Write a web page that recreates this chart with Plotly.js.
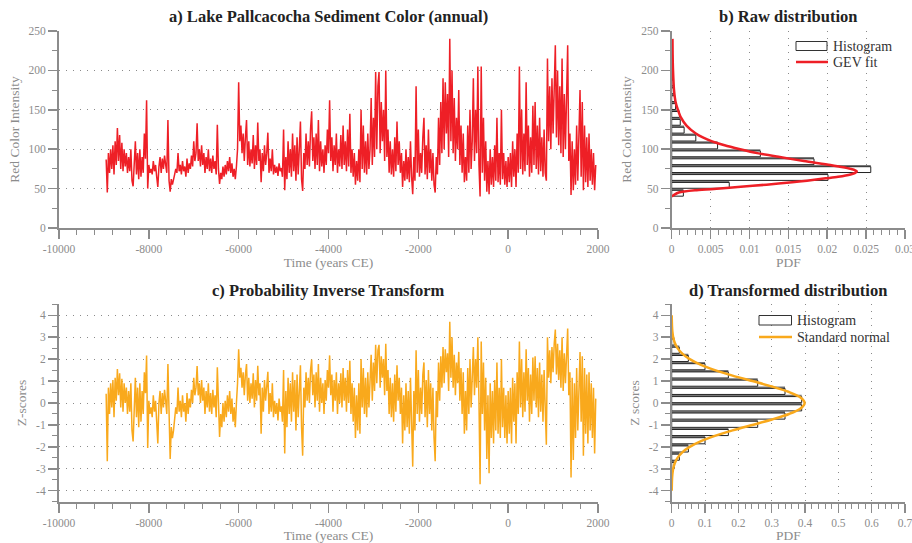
<!DOCTYPE html>
<html><head><meta charset="utf-8">
<script src="https://cdn.plot.ly/plotly-3.0.1.min.js"></script>
<style>html,body{margin:0;padding:0;background:#fff}#chart{width:912px;height:543px}</style>
</head><body><div id="chart"></div>
<script>
// ---------- data ----------
const yearStart = -8950;   // first sample (years CE)
const yearStep = 25;       // sampling step of the values below (years)

const redColor = [
  87,45,95,70,100,75,105,68,110,80,127,85,118,75,108,72,100,78,95,70,
  90,72,100,60,53,85,110,68,95,62,100,65,90,70,120,88,162,50,80,70,
  75,68,85,72,80,65,52,78,90,70,88,75,92,80,70,137,60,46,62,55,
  60,68,75,70,95,72,80,68,85,72,78,65,88,70,82,75,92,78,110,85,
  95,133,85,100,78,105,80,95,70,90,75,100,72,88,70,92,75,85,68,131,
  75,56,70,62,78,65,80,68,85,72,90,70,82,65,75,62,78,100,185,110,
  130,95,120,85,115,137,80,110,78,100,82,118,75,105,80,134,85,100,58,95,
  72,105,80,95,121,70,88,72,100,68,80,70,78,66,82,72,76,65,125,48,
  90,62,110,70,100,65,120,72,105,60,115,68,100,135,62,47,95,75,120,80,
  110,78,125,148,85,115,75,120,80,137,72,110,78,100,70,105,80,125,95,162,
  85,115,72,105,80,120,70,100,78,118,75,130,80,110,72,125,78,145,70,100,
  65,95,55,85,60,100,58,150,75,130,70,110,68,120,75,100,165,80,140,90,
  198,100,180,198,95,160,110,150,85,200,90,125,70,110,68,100,65,115,72,135,
  80,110,70,95,52,85,60,100,62,90,58,110,65,43,90,60,180,70,125,65,
  95,70,115,140,68,105,62,125,70,100,60,95,55,45,90,68,140,80,160,95,
  190,100,185,120,170,90,240,110,200,95,165,85,140,100,175,80,130,70,120,58,
  90,60,130,70,150,75,110,190,85,150,95,205,80,40,205,70,140,60,110,46,
  85,43,100,55,90,52,105,60,140,58,95,55,150,62,95,55,85,52,90,58,
  95,52,110,65,100,52,120,70,205,75,150,68,120,72,185,80,130,65,115,70,
  155,80,160,75,130,68,140,72,115,65,125,70,60,215,110,180,100,190,120,200,
  232,115,200,105,180,95,215,90,170,100,150,232,85,120,42,110,48,100,55,130,
  60,120,175,65,160,48,130,58,115,52,120,60,100,55,95,48,80
];

const zScores = [
  0.42,-2.65,0.7,-0.5,0.9,-0.2,1.05,-0.65,1.15,0.1,1.55,0.35,1.35,-0.2,1.1,-0.4,0.9,0.0,0.7,-0.5,
  0.55,-0.4,0.9,-1.25,-1.75,0.35,1.15,-0.65,0.7,-1.1,0.9,-0.85,0.55,-0.5,1.4,0.45,2.17,-2.05,0.1,-0.5,
  -0.2,-0.65,0.35,-0.4,0.1,-0.85,-1.85,0.0,0.55,-0.5,0.45,-0.2,0.6,0.1,-0.5,1.78,-1.25,-2.55,-1.1,-1.6,
  -1.25,-0.65,-0.2,-0.5,0.7,-0.4,0.1,-0.65,0.35,-0.4,0.0,-0.85,0.45,-0.5,0.2,-0.2,0.6,0.0,1.15,0.35,
  0.7,1.68,0.35,0.9,0.0,1.05,0.1,0.7,-0.5,0.55,-0.2,0.9,-0.4,0.45,-0.5,0.6,-0.2,0.35,-0.65,1.63,
  -0.2,-1.55,-0.5,-1.1,0.0,-0.85,0.1,-0.65,0.35,-0.4,0.55,-0.5,0.2,-0.85,-0.2,-1.1,0.0,0.9,2.45,1.15,
  1.6,0.7,1.4,0.35,1.3,1.78,0.1,1.15,0.0,0.9,0.2,1.35,-0.2,1.05,0.1,1.7,0.35,0.9,-1.4,0.7,
  -0.4,1.05,0.1,0.7,1.42,-0.5,0.45,-0.4,0.9,-0.65,0.1,-0.5,0.0,-0.8,0.2,-0.4,-0.15,-0.85,1.5,-2.3,
  0.55,-1.1,1.15,-0.5,0.9,-0.85,1.4,-0.4,1.05,-1.25,1.3,-0.65,0.9,1.72,-1.1,-2.4,0.7,-0.2,1.4,0.1,
  1.15,0.0,1.5,1.98,0.35,1.3,-0.2,1.4,0.1,1.78,-0.4,1.15,0.0,0.9,-0.5,1.05,0.1,1.5,0.7,2.17,
  0.35,1.3,-0.4,1.05,0.1,1.4,-0.5,0.9,0.0,1.35,-0.2,1.6,0.1,1.15,-0.4,1.5,0.0,1.93,-0.5,0.9,
  -0.85,0.7,-1.6,0.35,-1.25,0.9,-1.4,2.0,-0.2,1.6,-0.5,1.15,-0.65,1.4,-0.2,0.9,2.2,0.1,1.85,0.55,
  2.65,0.9,2.4,2.65,0.7,2.13,1.15,2.0,0.35,2.7,0.55,1.5,-0.5,1.15,-0.65,0.9,-0.85,1.3,-0.4,1.72,
  0.1,1.15,-0.5,0.7,-1.85,0.35,-1.25,0.9,-1.1,0.55,-1.4,1.15,-0.85,-2.9,0.55,-1.25,2.4,-0.5,1.5,-0.85,
  0.7,-0.5,1.3,1.85,-0.65,1.05,-1.1,1.5,-0.5,0.9,-1.25,0.7,-1.6,-2.65,0.55,-0.65,1.85,0.1,2.13,0.7,
  2.55,0.9,2.45,1.4,2.27,0.55,3.7,1.15,3.0,0.7,2.2,0.35,1.85,0.9,2.33,0.1,1.6,-0.5,1.4,-1.4,
  0.55,-1.25,1.6,-0.5,2.0,-0.2,1.15,2.55,0.35,2.0,0.7,3.0,0.1,-3.7,2.8,-0.5,1.85,-1.25,1.15,-2.55,
  0.35,-3.2,0.9,-1.6,0.55,-1.85,1.05,-1.25,1.85,-1.4,0.7,-1.6,2.0,-1.1,0.7,-1.6,0.35,-1.85,0.55,-1.4,
  0.7,-1.85,1.15,-0.85,0.9,-1.85,1.4,-0.5,2.8,-0.2,2.0,-0.65,1.4,-0.4,2.45,0.1,1.6,-0.85,1.3,-0.5,
  2.07,0.1,2.13,-0.2,1.6,-0.65,1.85,-0.4,1.3,-0.85,1.5,-0.5,-1.9,3.0,1.15,2.4,0.9,2.55,1.4,2.7,
  3.35,1.3,2.7,1.05,2.4,0.7,3.0,0.55,2.27,0.9,2.0,3.4,0.35,1.4,-3.4,1.15,-2.6,0.9,-1.6,1.6,
  -1.25,1.4,2.33,-0.85,2.13,-2.4,1.6,-1.4,1.3,-1.85,1.4,-1.25,0.9,-1.6,0.7,-2.3,0.2
];

// raw histogram (bin lower edges, width 10) and PDF
const rawBinWidth = 10;
const rawBinLo = [40,50,60,70,80,90,100,110,120,130,140,150,160,170,180,190,200];
const rawPdf   = [0.0015,0.0074,0.0201,0.0256,0.0183,0.0114,0.0059,0.0031,0.0016,0.0011,0.0010,0.0005,0.0004,0.0003,0.0002,0.0002,0.0002];

// GEV fit curve
const gevRed = [40,42,45,48,50,52,55,58,60,63,65,68,70,72,75,78,80,85,90,95,100,105,110,115,120,130,140,150,160,175,200,220,240];
const gevPdf = [0,0.0003,0.0009,0.0032,0.0062,0.0085,0.0122,0.0155,0.0174,0.0198,0.0214,0.0230,0.0236,0.0238,0.0230,0.0215,0.0204,0.0170,0.0139,0.0110,0.0088,0.0068,0.0052,0.0040,0.0031,0.0019,0.0012,0.0008,0.0005,0.0003,0.00017,0.00012,0.0001];

// transformed histogram (bin lower edges, width 0.375) and PDF
const zBinWidth = 0.375;
const zBinLo = [-3.0,-2.625,-2.25,-1.875,-1.5,-1.125,-0.75,-0.375,0,0.375,0.75,1.125,1.5,1.875,2.25,2.625];
const zPdf   = [0.008,0.023,0.05,0.1,0.17,0.258,0.34,0.39,0.39,0.34,0.258,0.17,0.1,0.05,0.023,0.008];

// standard normal curve
const normZ   = [-4,-3.75,-3.5,-3.25,-3,-2.75,-2.5,-2.25,-2,-1.75,-1.5,-1.25,-1,-0.75,-0.5,-0.25,0,0.25,0.5,0.75,1,1.25,1.5,1.75,2,2.25,2.5,2.75,3,3.25,3.5,3.75,4];
const normPdf = [0.0001,0.0004,0.0009,0.002,0.0044,0.0091,0.0175,0.0317,0.054,0.0863,0.1295,0.1826,0.242,0.3011,0.3521,0.3867,0.3989,0.3867,0.3521,0.3011,0.242,0.1826,0.1295,0.0863,0.054,0.0317,0.0175,0.0091,0.0044,0.002,0.0009,0.0004,0.0001];

// tick labels
const timeTicks = [-10000,-8000,-6000,-4000,-2000,0,2000];
const timeTickText = ['-10000','-8000','-6000','-4000','-2000','0','2000'];
const redTicks = [0,50,100,150,200,250];
const pdfRawTicks = [0,0.005,0.01,0.015,0.02,0.025,0.03];
const pdfRawText = ['0','0.005','0.01','0.015','0.02','0.025','0.03'];
const zTicks = [-4,-3,-2,-1,0,1,2,3,4];
const zTickText = ['-4','-3','-2','-1','0','1','2','3','4'];
const pdfZTicks = [0,0.1,0.2,0.3,0.4,0.5,0.6,0.7];
const pdfZText = ['0','0.1','0.2','0.3','0.4','0.5','0.6','0.7'];

// ---------- build ----------
const years = redColor.map((_, i) => yearStart + i * yearStep);

const RED = '#ee1f26', ORANGE = '#f9a91c', AX = '#8c8c8c', BARGRAY = '#777777';
const SERIF = 'Liberation Serif, Times New Roman, serif';

const traces = [
  {type:'scatter', mode:'lines', x: years, y: redColor, xaxis:'x', yaxis:'y',
   line:{color:RED, width:1.5}, showlegend:false, hoverinfo:'skip'},
  {type:'scatter', mode:'lines', x: years, y: zScores, xaxis:'x3', yaxis:'y3',
   line:{color:ORANGE, width:1.5}, showlegend:false, hoverinfo:'skip'},
  // panel b histogram: gray band + outlined white box
  {type:'bar', orientation:'h', y: rawBinLo, x: rawPdf, xaxis:'x2', yaxis:'y2',
   offset: rawBinWidth*0.78, width: rawBinWidth*0.22,
   marker:{color:BARGRAY, line:{width:0}}, showlegend:false, hoverinfo:'skip'},
  {type:'bar', orientation:'h', y: rawBinLo, x: rawPdf, xaxis:'x2', yaxis:'y2',
   offset: rawBinWidth*0.04, width: rawBinWidth*0.74, name:'Histogram', showlegend:false,
   marker:{color:'#ffffff', line:{color:'#222', width:1}}, hoverinfo:'skip'},
  {type:'scatter', mode:'lines', x: gevPdf, y: gevRed, xaxis:'x2', yaxis:'y2', name:'GEV fit', showlegend:false,
   line:{color:RED, width:2.5, shape:'spline', smoothing:0.8}, hoverinfo:'skip'},
  // panel d histogram
  {type:'bar', orientation:'h', y: zBinLo, x: zPdf, xaxis:'x4', yaxis:'y4',
   offset: zBinWidth*0.78, width: zBinWidth*0.22,
   marker:{color:BARGRAY, line:{width:0}}, showlegend:false, hoverinfo:'skip'},
  {type:'bar', orientation:'h', y: zBinLo, x: zPdf, xaxis:'x4', yaxis:'y4',
   offset: zBinWidth*0.04, width: zBinWidth*0.74, name:'Histogram', showlegend:false,
   marker:{color:'#ffffff', line:{color:'#222', width:1}}, hoverinfo:'skip'},
  {type:'scatter', mode:'lines', x: normPdf, y: normZ, xaxis:'x4', yaxis:'y4', name:'Standard normal', showlegend:false,
   line:{color:ORANGE, width:2.5, shape:'spline', smoothing:0.8}, hoverinfo:'skip'}
];

function axis(o){
  return Object.assign({
    showline:true, linecolor:AX, linewidth:2, zeroline:false,
    ticks:'outside', ticklen:9, tickwidth:1.5, tickcolor:AX,
    tickfont:{family:SERIF, size:11.5, color:AX}, ticklabeloverflow:'allow',
    tickmode:'array', fixedrange:true,
    showgrid:false, gridcolor:'#8a8a8a', griddash:'1px,6px', gridwidth:1
  }, o);
}
function minor(d){ return {tickmode:'linear', dtick:d, ticklen:5, tickwidth:1, tickcolor:AX, ticks:'outside', showgrid:false}; }
function ttl(t, s){ return {text:t, font:{family:SERIF, size:13.5, color:AX}, standoff:s}; }

const W = 912, H = 543;
const px = v => v / W, py = v => 1 - v / H;
const xa = [px(59), px(598)], xb = [px(671.7), px(905)];
const ya = [py(228), py(31)], yc = [py(501.7), py(304.3)];

// hand-drawn legends (wide swatches as in the reference)
const LEG = {family:SERIF, size:14, color:'#333'};
const shapes = [
  {type:'rect', xref:'paper', yref:'paper', x0:px(796), x1:px(827), y0:py(50.5), y1:py(41.5), fillcolor:'#fff', line:{color:'#333', width:1}},
  {type:'line', xref:'paper', yref:'paper', x0:px(796), x1:px(828), y0:py(62), y1:py(62), line:{color:RED, width:2.5}},
  {type:'rect', xref:'paper', yref:'paper', x0:px(759), x1:px(791.5), y0:py(325), y1:py(315.5), fillcolor:'#fff', line:{color:'#333', width:1}},
  {type:'line', xref:'paper', yref:'paper', x0:px(759), x1:px(792), y0:py(337), y1:py(337), line:{color:ORANGE, width:2.5}}
];

const layout = {
  width:W, height:H, margin:{l:0,r:0,t:0,b:0}, showlegend:false,
  paper_bgcolor:'#fff', plot_bgcolor:'#fff', barmode:'overlay',
  xaxis: axis({domain:xa, anchor:'y', range:[-10000,2000], tickvals:timeTicks, ticktext:timeTickText,
               minor:minor(400), title:ttl('Time (years CE)', 2)}),
  yaxis: axis({domain:ya, anchor:'x', range:[0,250], tickvals:redTicks, showgrid:true,
               minor:minor(25), title:ttl('Red Color Intensity', 6)}),
  xaxis2: axis({domain:xb, anchor:'y2', range:[0,0.03], tickvals:pdfRawTicks, ticktext:pdfRawText, showgrid:true,
               minor:minor(0.001), title:ttl('PDF', 2)}),
  yaxis2: axis({domain:ya, anchor:'x2', range:[0,250], tickvals:redTicks,
               minor:minor(25), title:ttl('Red Color Intensity', 6)}),
  xaxis3: axis({domain:xa, anchor:'y3', range:[-10000,2000], tickvals:timeTicks, ticktext:timeTickText,
               minor:minor(400), title:ttl('Time (years CE)', 2)}),
  yaxis3: axis({domain:yc, anchor:'x3', range:[-4.5,4.5], tickvals:zTicks, ticktext:zTickText, showgrid:true,
               minor:minor(0.5), title:ttl('Z-scores', 6)}),
  xaxis4: axis({domain:xb, anchor:'y4', range:[0,0.7], tickvals:pdfZTicks, ticktext:pdfZText, showgrid:true,
               minor:minor(0.02), title:ttl('PDF', 2)}),
  yaxis4: axis({domain:yc, anchor:'x4', range:[-4.5,4.5], tickvals:zTicks, ticktext:zTickText,
               minor:minor(0.5), title:ttl('Z scores', 6)}),
  shapes: shapes,
  annotations: [
    {text:'<b>a) Lake Pallcacocha Sediment Color (annual)</b>', x:px(328), y:py(16)},
    {text:'<b>b) Raw distribution</b>', x:px(788), y:py(16)},
    {text:'<b>c) Probability Inverse Transform</b>', x:px(328), y:py(290)},
    {text:'<b>d) Transformed distribution</b>', x:px(788), y:py(290)}
  ].map(a => Object.assign({xref:'paper', yref:'paper', xanchor:'center', yanchor:'middle', showarrow:false,
       font:{family:SERIF, size:16.5, color:'#222'}}, a)).concat([
    {text:'Histogram', x:px(831), y:py(46)},
    {text:'GEV fit', x:px(831), y:py(62)},
    {text:'Histogram', x:px(795), y:py(320)},
    {text:'Standard normal', x:px(795), y:py(337)}
  ].map(a => Object.assign({xref:'paper', yref:'paper', xanchor:'left', yanchor:'middle', showarrow:false, font:LEG}, a)))
};

Plotly.newPlot('chart', traces, layout, {staticPlot:true, displayModeBar:false});
</script></body></html>
